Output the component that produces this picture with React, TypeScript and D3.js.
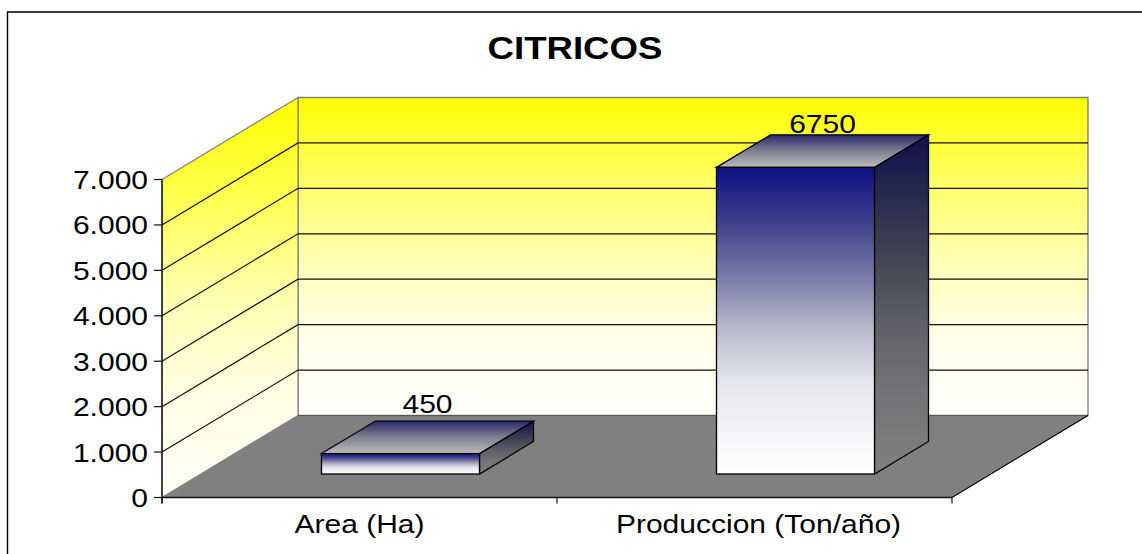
import React from "react";
import * as d3 from "d3";

const categories = ["Area (Ha)", "Produccion (Ton/año)"];
const values = [450, 6750];
const valueLabels = ["450", "6750"];
const yTicks = [0, 1000, 2000, 3000, 4000, 5000, 6000, 7000];
const yTickLabels = ["0", "1.000", "2.000", "3.000", "4.000", "5.000", "6.000", "7.000"];
const title = "CITRICOS";

const W = 1142, H = 554;
const FONT = "'Liberation Sans', Arial, sans-serif";
const x = d3.scaleBand<string>().domain(categories).range([162, 952]).paddingInner(0.6).paddingOuter(0.3);
const y = d3.scaleLinear().domain([0, 7000]).range([497.5, 179.5]);
const depthX = 136, depthY = -82;
const barOffX = 41, barOffY = -23.5;
const barDepthX = 54, barDepthY = -32.5;
const valueLabelGap = [8, 1.5];
const categoryLabelShift = [0, 4];
const HS = 1.2;

const poly = (pts: [number, number][]) => d3.line()(pts)! + "Z";

type LabelProps = { x: number; y: number; size: number; anchor: string; weight?: string; children: React.ReactNode };
const Label = ({ x: lx, y: ly, size, anchor, weight, children }: LabelProps) => (
  <text transform={`translate(${lx},${ly}) scale(${HS},1)`} textAnchor={anchor} fontSize={size} fontWeight={weight} fill="#000">
    {children}
  </text>
);

const App = () => {
  const x0 = x.range()[0], x1 = x.range()[1];
  const y0 = y(0), yTop = y(7000);
  return (
    <svg width={W} height={H} style={{ position: "absolute", left: 0, top: 0, background: "#fff" }} fontFamily={FONT}>
      <defs>
        <linearGradient id="wall" gradientUnits="userSpaceOnUse" x1="0" x2="0" y1={yTop + depthY} y2={y0 + depthY}>
          <stop offset="0" stopColor="#ffff00" />
          <stop offset="0.25" stopColor="#ffff60" />
          <stop offset="0.5" stopColor="#ffffb0" />
          <stop offset="0.75" stopColor="#ffffea" />
          <stop offset="1" stopColor="#fffffc" />
        </linearGradient>
        <linearGradient id="side" gradientUnits="userSpaceOnUse" x1="0" x2="0" y1={yTop + depthY} y2={y0}>
          <stop offset="0" stopColor="#ffff00" />
          <stop offset="0.25" stopColor="#ffff50" />
          <stop offset="0.5" stopColor="#ffffb0" />
          <stop offset="0.75" stopColor="#ffffe6" />
          <stop offset="1" stopColor="#fffff8" />
        </linearGradient>
        <linearGradient id="front" x1="0" x2="0" y1="0" y2="1">
          <stop offset="0" stopColor="#0c1080" />
          <stop offset="0.2" stopColor="#45458c" />
          <stop offset="0.36" stopColor="#7c7ca8" />
          <stop offset="0.52" stopColor="#b8b8cc" />
          <stop offset="0.7" stopColor="#e6e6ec" />
          <stop offset="1" stopColor="#ffffff" />
        </linearGradient>
        <linearGradient id="top" x1="0" x2="0" y1="0" y2="1">
          <stop offset="0" stopColor="#28286f" />
          <stop offset="0.5" stopColor="#808090" />
          <stop offset="1" stopColor="#bcbcbc" />
        </linearGradient>
        <linearGradient id="sideBar" x1="0" x2="0" y1="0" y2="1">
          <stop offset="0" stopColor="#10104c" />
          <stop offset="0.3" stopColor="#3a3a50" />
          <stop offset="0.55" stopColor="#5e5e65" />
          <stop offset="0.75" stopColor="#737375" />
          <stop offset="1" stopColor="#808080" />
        </linearGradient>
      </defs>

      <path d={`M7.5,${H}V12H${W}`} fill="none" stroke="#000" strokeWidth={1.4} />

      <Label x={575} y={59} size={30.5} anchor="middle" weight="bold">{title}</Label>

      {/* back wall */}
      <path d={poly([[x0 + depthX, yTop + depthY], [x1 + depthX, yTop + depthY], [x1 + depthX, y0 + depthY], [x0 + depthX, y0 + depthY]])}
        fill="url(#wall)" stroke="#808080" strokeWidth={1.4} />
      {/* side wall */}
      <path d={poly([[x0, yTop], [x0 + depthX, yTop + depthY], [x0 + depthX, y0 + depthY], [x0, y0]])}
        fill="url(#side)" stroke="#808080" strokeWidth={1.2} />
      {/* floor */}
      <path d={poly([[x0, y0], [x0 + depthX, y0 + depthY], [x1 + depthX, y0 + depthY], [x1, y0]])} fill="#808080" />
      <line x1={x0 + depthX} x2={x1 + depthX} y1={y0 + depthY} y2={y0 + depthY} stroke="#555" strokeWidth={1.2} />
      <line x1={x1} x2={x1 + depthX} y1={y0} y2={y0 + depthY} stroke="#000" strokeWidth={1.1} />

      {/* gridlines */}
      {yTicks.slice(1, -1).map((t) => (
        <path key={t} d={d3.line()([[x0, y(t)], [x0 + depthX, y(t) + depthY], [x1 + depthX, y(t) + depthY]])!}
          fill="none" stroke="#111" strokeWidth={1.2} />
      ))}

      {/* axes */}
      <line x1={x0} x2={x0} y1={yTop} y2={y0 + 6} stroke="#111" strokeWidth={1.4} />
      <line x1={x0} x2={x1} y1={y0} y2={y0} stroke="#111" strokeWidth={1.4} />
      {[x0, x0 + x.step(), x1].map((v) => (
        <line key={v} x1={v} x2={v} y1={y0} y2={y0 + 6} stroke="#111" strokeWidth={1.2} />
      ))}
      {yTicks.map((t, i) => (
        <g key={t}>
          <line x1={x0 - 8} x2={x0} y1={y(t)} y2={y(t)} stroke="#111" strokeWidth={1.2} />
          <Label x={148} y={y(t) + 9.5} size={25} anchor="end">{yTickLabels[i]}</Label>
        </g>
      ))}

      {/* bars */}
      {categories.map((c, i) => {
        const l = x(c)! + barOffX;
        const r = l + x.bandwidth();
        const b = y0 + barOffY;
        const t = b - (y(0) - y(values[i]));
        const s = "#000";
        return (
          <g key={c}>
            <path d={poly([[r, t], [r + barDepthX, t + barDepthY], [r + barDepthX, b + barDepthY], [r, b]])} fill="url(#sideBar)" stroke={s} strokeWidth={1.3} />
            <path d={poly([[l, t], [l + barDepthX, t + barDepthY], [r + barDepthX, t + barDepthY], [r, t]])} fill="url(#top)" stroke={s} strokeWidth={1.3} />
            <rect x={l} y={t} width={x.bandwidth()} height={b - t} fill="url(#front)" stroke={s} strokeWidth={1.3} />
            <Label x={l + x.bandwidth() / 2 + 27} y={t + barDepthY - valueLabelGap[i]} size={25} anchor="middle">{valueLabels[i]}</Label>
            <Label x={x(c)! + x.bandwidth() / 2 + categoryLabelShift[i]} y={533} size={25} anchor="middle">{c}</Label>
          </g>
        );
      })}
    </svg>
  );
};

export default App;
